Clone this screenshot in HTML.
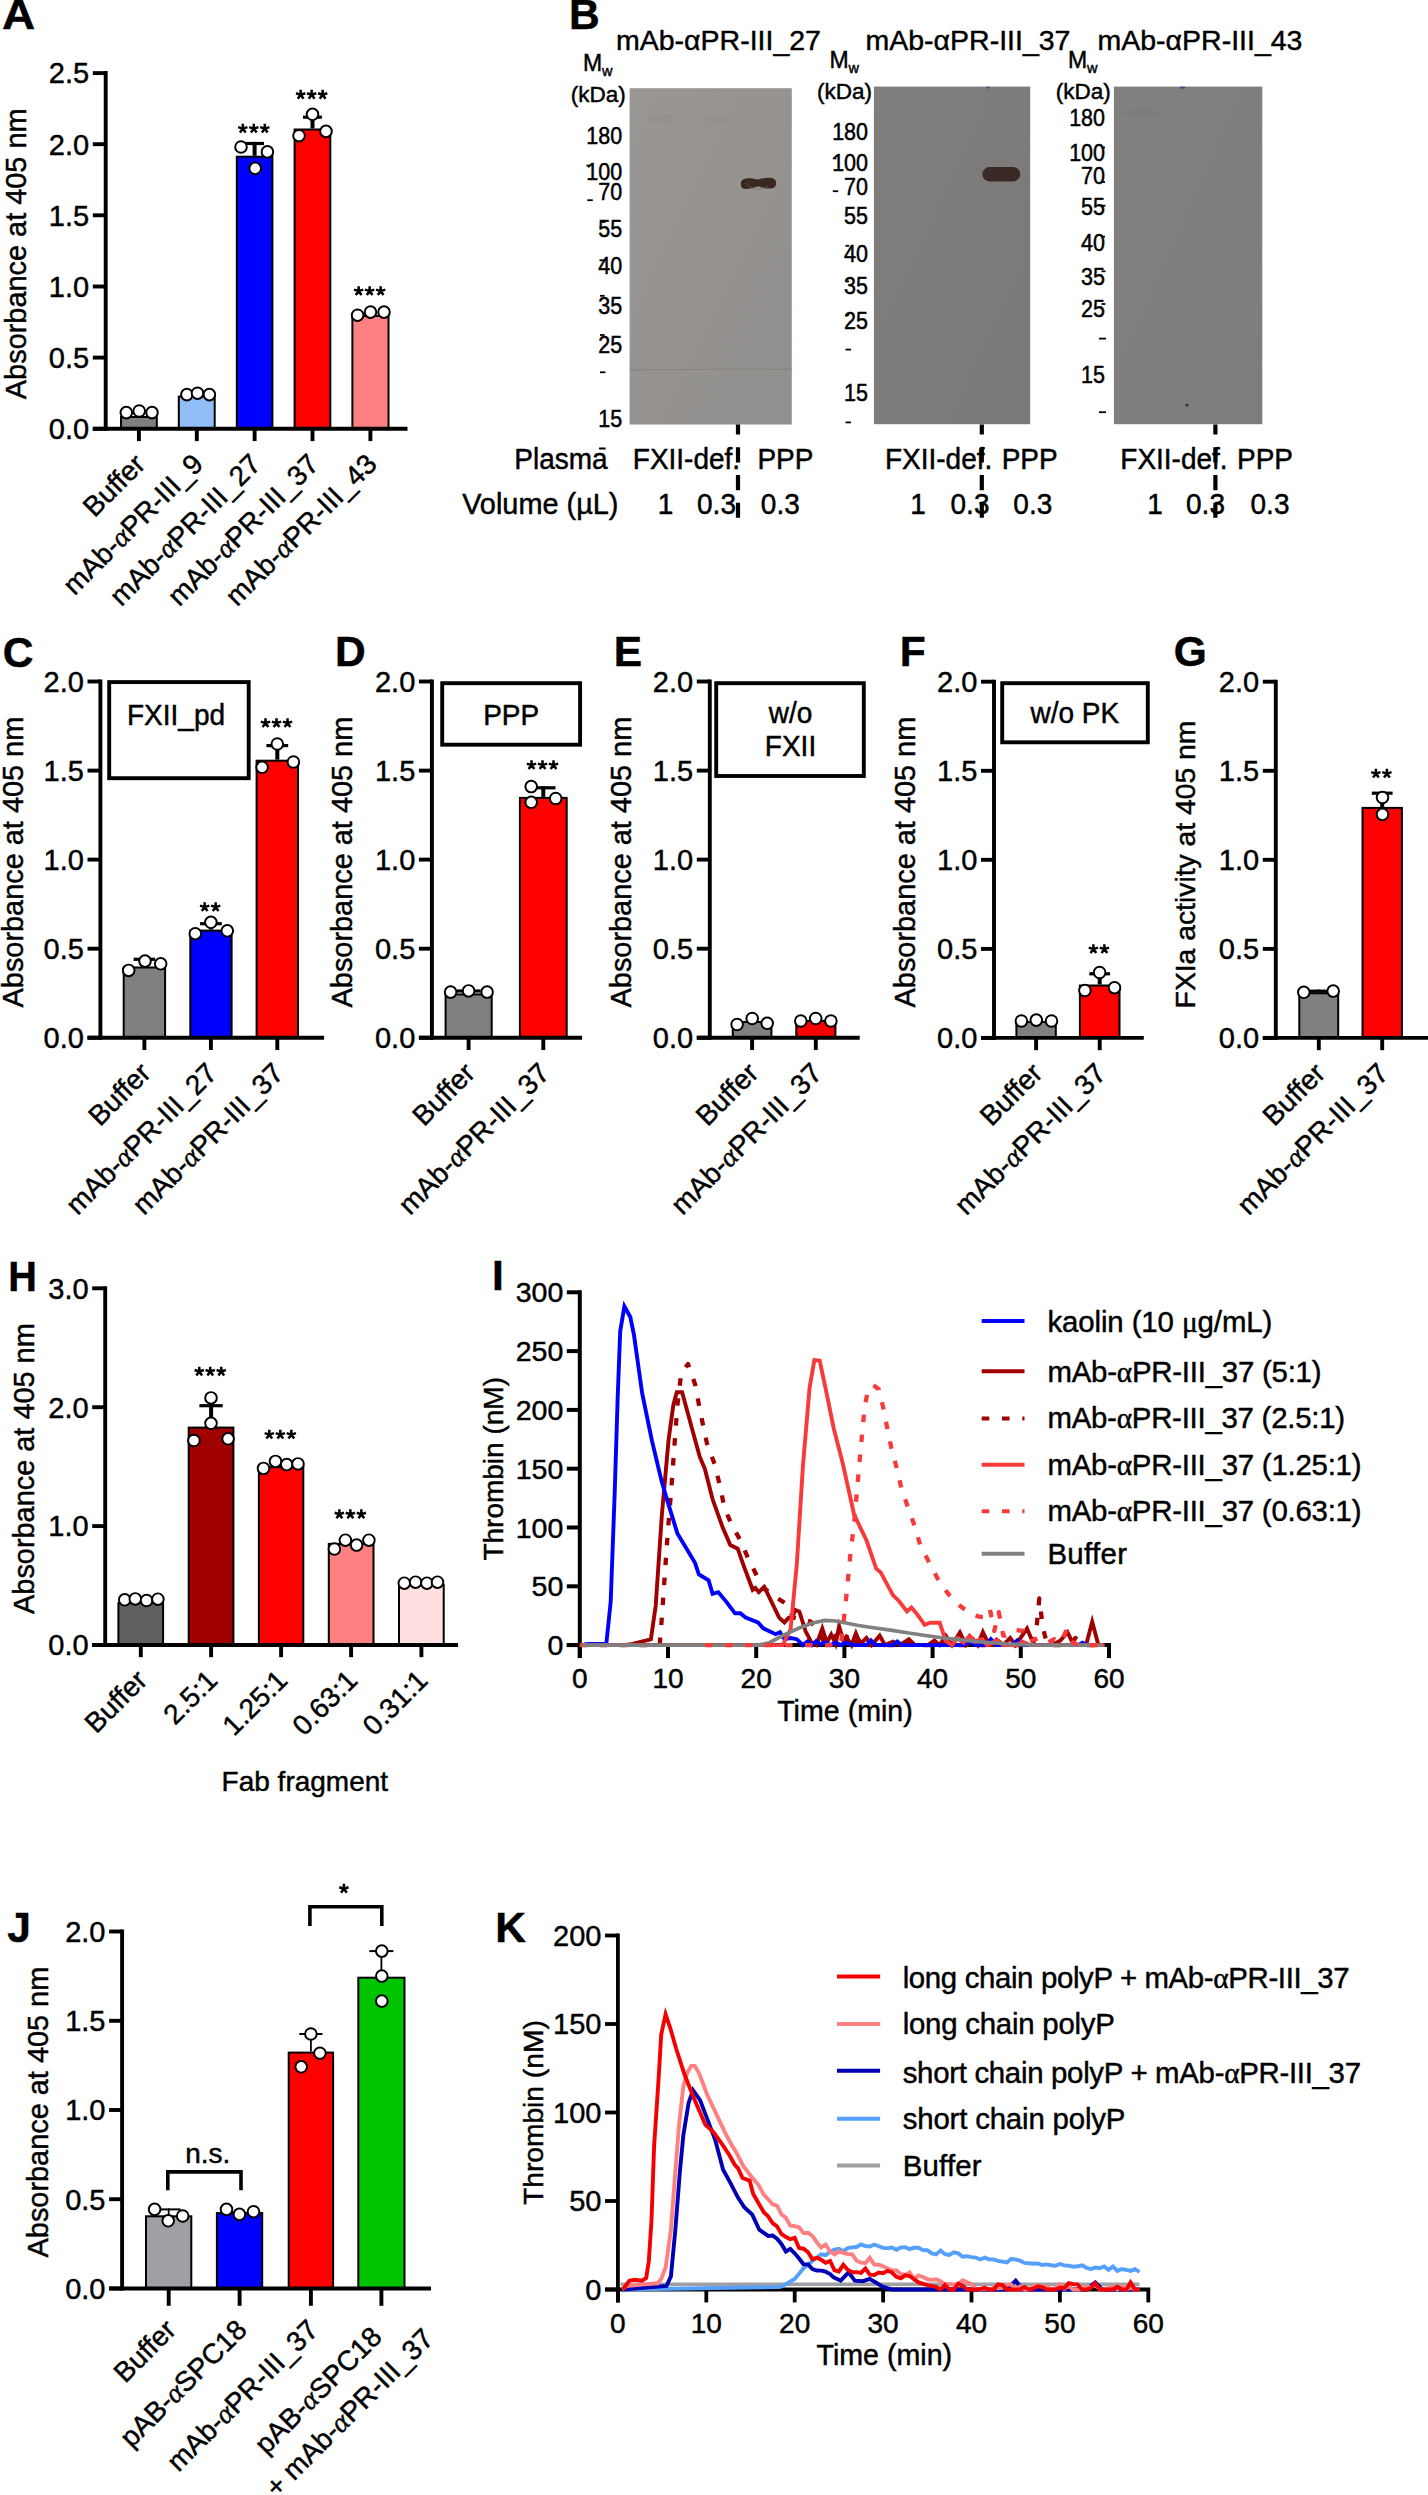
<!DOCTYPE html>
<html><head><meta charset="utf-8"><title>Figure</title>
<style>
html,body{margin:0;padding:0;background:#fff;overflow:hidden;width:1428px;height:2495px;}
svg{display:block;}
text{font-family:"Liberation Sans",sans-serif;stroke:#000;stroke-width:0.45px;}
</style></head><body>
<svg width="1428" height="2495" viewBox="0 0 1428 2495">
<rect width="1428" height="2495" fill="#fff"/>
<text x="0" y="0" transform="translate(2.1 29.0) scale(1.08 1)" font-size="42.5" font-weight="bold">A</text>
<rect x="121.0" y="417.0" width="35.8" height="11.8" fill="#808080" stroke="#000" stroke-width="2.0"/>
<rect x="178.8" y="396.6" width="35.9" height="32.2" fill="#92bef8" stroke="#000" stroke-width="2.0"/>
<rect x="236.8" y="156.7" width="35.6" height="272.1" fill="#0000ff" stroke="#000" stroke-width="2.0"/>
<rect x="294.6" y="129.5" width="35.7" height="299.3" fill="#ff0000" stroke="#000" stroke-width="2.0"/>
<rect x="352.4" y="316.0" width="36.1" height="112.8" fill="#ff8080" stroke="#000" stroke-width="2.0"/>
<line x1="254.6" y1="155.7" x2="254.6" y2="141.9" stroke="#000" stroke-width="4.0"/>
<line x1="245.2" y1="143.5" x2="264.0" y2="143.5" stroke="#000" stroke-width="3.2"/>
<line x1="312.5" y1="128.5" x2="312.5" y2="115.6" stroke="#000" stroke-width="4.0"/>
<line x1="303.0" y1="117.2" x2="321.9" y2="117.2" stroke="#000" stroke-width="3.2"/>
<line x1="105.7" y1="71.1" x2="105.7" y2="430.8" stroke="#000" stroke-width="3.9"/>
<line x1="92.8" y1="428.8" x2="105.7" y2="428.8" stroke="#000" stroke-width="3.9"/>
<text x="89.2" y="439.1" font-size="29" text-anchor="end">0.0</text>
<line x1="92.8" y1="357.6" x2="105.7" y2="357.6" stroke="#000" stroke-width="3.9"/>
<text x="89.2" y="367.9" font-size="29" text-anchor="end">0.5</text>
<line x1="92.8" y1="286.5" x2="105.7" y2="286.5" stroke="#000" stroke-width="3.9"/>
<text x="89.2" y="296.8" font-size="29" text-anchor="end">1.0</text>
<line x1="92.8" y1="215.3" x2="105.7" y2="215.3" stroke="#000" stroke-width="3.9"/>
<text x="89.2" y="225.6" font-size="29" text-anchor="end">1.5</text>
<line x1="92.8" y1="144.2" x2="105.7" y2="144.2" stroke="#000" stroke-width="3.9"/>
<text x="89.2" y="154.5" font-size="29" text-anchor="end">2.0</text>
<line x1="92.8" y1="73.1" x2="105.7" y2="73.1" stroke="#000" stroke-width="3.9"/>
<text x="89.2" y="83.3" font-size="29" text-anchor="end">2.5</text>
<line x1="92.8" y1="428.8" x2="407.5" y2="428.8" stroke="#000" stroke-width="3.9"/>
<line x1="138.9" y1="428.8" x2="138.9" y2="441.1" stroke="#000" stroke-width="3.9"/>
<line x1="196.8" y1="428.8" x2="196.8" y2="441.1" stroke="#000" stroke-width="3.9"/>
<line x1="254.6" y1="428.8" x2="254.6" y2="441.1" stroke="#000" stroke-width="3.9"/>
<line x1="312.5" y1="428.8" x2="312.5" y2="441.1" stroke="#000" stroke-width="3.9"/>
<line x1="370.4" y1="428.8" x2="370.4" y2="441.1" stroke="#000" stroke-width="3.9"/>
<circle cx="126.3" cy="412.6" r="5.8" fill="#fff" stroke="#000" stroke-width="1.95"/>
<circle cx="139.2" cy="411.0" r="5.8" fill="#fff" stroke="#000" stroke-width="1.95"/>
<circle cx="152.0" cy="412.6" r="5.8" fill="#fff" stroke="#000" stroke-width="1.95"/>
<circle cx="186.9" cy="394.6" r="5.8" fill="#fff" stroke="#000" stroke-width="1.95"/>
<circle cx="197.5" cy="393.2" r="5.8" fill="#fff" stroke="#000" stroke-width="1.95"/>
<circle cx="209.4" cy="394.6" r="5.8" fill="#fff" stroke="#000" stroke-width="1.95"/>
<circle cx="241.0" cy="147.0" r="5.8" fill="#fff" stroke="#000" stroke-width="1.95"/>
<circle cx="255.2" cy="168.4" r="5.8" fill="#fff" stroke="#000" stroke-width="1.95"/>
<circle cx="267.4" cy="151.9" r="5.8" fill="#fff" stroke="#000" stroke-width="1.95"/>
<circle cx="299.0" cy="135.7" r="5.8" fill="#fff" stroke="#000" stroke-width="1.95"/>
<circle cx="312.5" cy="114.3" r="5.8" fill="#fff" stroke="#000" stroke-width="1.95"/>
<circle cx="326.0" cy="131.4" r="5.8" fill="#fff" stroke="#000" stroke-width="1.95"/>
<circle cx="357.6" cy="315.2" r="5.8" fill="#fff" stroke="#000" stroke-width="1.95"/>
<circle cx="370.5" cy="312.1" r="5.8" fill="#fff" stroke="#000" stroke-width="1.95"/>
<circle cx="384.0" cy="312.1" r="5.8" fill="#fff" stroke="#000" stroke-width="1.95"/>
<path d="M242.80,128.65L242.80,123.75M242.80,128.65L247.46,127.14M242.80,128.65L245.68,132.61M242.80,128.65L239.92,132.61M242.80,128.65L238.14,127.14M253.80,128.65L253.80,123.75M253.80,128.65L258.46,127.14M253.80,128.65L256.68,132.61M253.80,128.65L250.92,132.61M253.80,128.65L249.14,127.14M264.80,128.65L264.80,123.75M264.80,128.65L269.46,127.14M264.80,128.65L267.68,132.61M264.80,128.65L261.92,132.61M264.80,128.65L260.14,127.14" stroke="#000" stroke-width="2.5" fill="none"/>
<path d="M300.65,94.75L300.65,89.85M300.65,94.75L305.31,93.24M300.65,94.75L303.53,98.71M300.65,94.75L297.77,98.71M300.65,94.75L295.99,93.24M311.65,94.75L311.65,89.85M311.65,94.75L316.31,93.24M311.65,94.75L314.53,98.71M311.65,94.75L308.77,98.71M311.65,94.75L306.99,93.24M322.65,94.75L322.65,89.85M322.65,94.75L327.31,93.24M322.65,94.75L325.53,98.71M322.65,94.75L319.77,98.71M322.65,94.75L317.99,93.24" stroke="#000" stroke-width="2.5" fill="none"/>
<path d="M358.65,291.15L358.65,286.25M358.65,291.15L363.31,289.64M358.65,291.15L361.53,295.11M358.65,291.15L355.77,295.11M358.65,291.15L353.99,289.64M369.65,291.15L369.65,286.25M369.65,291.15L374.31,289.64M369.65,291.15L372.53,295.11M369.65,291.15L366.77,295.11M369.65,291.15L364.99,289.64M380.65,291.15L380.65,286.25M380.65,291.15L385.31,289.64M380.65,291.15L383.53,295.11M380.65,291.15L377.77,295.11M380.65,291.15L375.99,289.64" stroke="#000" stroke-width="2.5" fill="none"/>
<text x="25.8" y="253.8" font-size="28.9" text-anchor="middle" transform="rotate(-90 25.8 253.8)">Absorbance at 405 nm</text>
<text x="146.9" y="465.8" font-size="28" text-anchor="end" transform="rotate(-45 146.9 465.8)">Buffer</text>
<text x="204.8" y="465.8" font-size="28" text-anchor="end" transform="rotate(-45 204.8 465.8)">mAb-<tspan font-family="Liberation Serif" font-style="italic">&#945;</tspan>PR-III_9</text>
<text x="262.6" y="465.8" font-size="28" text-anchor="end" transform="rotate(-45 262.6 465.8)">mAb-<tspan font-family="Liberation Serif" font-style="italic">&#945;</tspan>PR-III_27</text>
<text x="320.5" y="465.8" font-size="28" text-anchor="end" transform="rotate(-45 320.5 465.8)">mAb-<tspan font-family="Liberation Serif" font-style="italic">&#945;</tspan>PR-III_37</text>
<text x="378.4" y="465.8" font-size="28" text-anchor="end" transform="rotate(-45 378.4 465.8)">mAb-<tspan font-family="Liberation Serif" font-style="italic">&#945;</tspan>PR-III_43</text>
<text x="568.9" y="29.0" font-size="42.5" font-weight="bold">B</text>
<text x="616.0" y="49.5" font-size="28.5">mAb-&#945;PR-III_27</text>
<text x="865.5" y="49.5" font-size="28.5">mAb-&#945;PR-III_37</text>
<text x="1097.5" y="49.5" font-size="28.5">mAb-&#945;PR-III_43</text>
<text x="583.1" y="70.8" font-size="23">M</text>
<text x="602.1" y="75.9" font-size="14.5">w</text>
<text x="570.8" y="102.2" font-size="22.5">(kDa)</text>
<text x="829.5" y="67.6" font-size="23">M</text>
<text x="848.5" y="72.7" font-size="14.5">w</text>
<text x="817.0" y="99.0" font-size="22.5">(kDa)</text>
<text x="1068.0" y="67.6" font-size="23">M</text>
<text x="1087.0" y="72.7" font-size="14.5">w</text>
<text x="1055.7" y="99.0" font-size="22.5">(kDa)</text>
<defs><linearGradient id="g1" x1="0" y1="0" x2="1" y2="1"><stop offset="0" stop-color="#999694"/><stop offset="1" stop-color="#92908e"/></linearGradient></defs>
<rect x="629.6" y="88.2" width="162.2" height="336.3" fill="url(#g1)"/>
<defs><linearGradient id="g2" x1="0" y1="0" x2="1" y2="1"><stop offset="0" stop-color="#807e7c"/><stop offset="1" stop-color="#7b7977"/></linearGradient></defs>
<rect x="873.9" y="86.6" width="156.3" height="337.6" fill="url(#g2)"/>
<defs><linearGradient id="g3" x1="0" y1="0" x2="1" y2="1"><stop offset="0" stop-color="#82807e"/><stop offset="1" stop-color="#7f7d7b"/></linearGradient></defs>
<rect x="1113.9" y="86.6" width="148.4" height="337.6" fill="url(#g3)"/>
<line x1="629.6" y1="369.8" x2="791.8" y2="369.0" stroke="#85827f" stroke-width="0.9"/>
<ellipse cx="662" cy="119" rx="14" ry="4" fill="#8d8986" opacity="0.35"/><ellipse cx="718" cy="119" rx="14" ry="4" fill="#8d8986" opacity="0.25"/>
<ellipse cx="1140" cy="113" rx="18" ry="3.5" fill="#777472" opacity="0.3"/>
<ellipse cx="988" cy="87.6" rx="2" ry="1.0" fill="#3a3a90" opacity="0.7"/>
<ellipse cx="1182.6" cy="87.6" rx="3" ry="1.2" fill="#3a3a90" opacity="0.8"/>
<circle cx="1187" cy="405" r="1.6" fill="#3a3433"/>
<path d="M740.8,184.2 C740.5,176.5 751,177.6 758,179.6 C765,177.6 776.2,175.8 776.2,183.2 C776.2,191 765,188.5 758,186.2 C751,188.5 741,192 740.8,184.2 Z" fill="#3a2821"/>
<path d="M746,183.3 C752,192 762,190 768,186" fill="none" stroke="#6e6864" stroke-width="1" opacity="0.6"/>
<rect x="982.4" y="167.1" width="37.8" height="14.3" rx="7" ry="7" fill="#3a2927"/>
<text x="0" y="0" transform="translate(622.2 144.2) scale(1 1.09)" font-size="21.5" text-anchor="end">180</text>
<text x="0" y="0" transform="translate(622.2 179.6) scale(1 1.09)" font-size="21.5" text-anchor="end">100</text>
<text x="0" y="0" transform="translate(622.2 200.2) scale(1 1.09)" font-size="21.5" text-anchor="end">70</text>
<text x="0" y="0" transform="translate(622.2 236.9) scale(1 1.09)" font-size="21.5" text-anchor="end">55</text>
<text x="0" y="0" transform="translate(622.2 273.9) scale(1 1.09)" font-size="21.5" text-anchor="end">40</text>
<text x="0" y="0" transform="translate(622.2 313.5) scale(1 1.09)" font-size="21.5" text-anchor="end">35</text>
<text x="0" y="0" transform="translate(622.2 352.6) scale(1 1.09)" font-size="21.5" text-anchor="end">25</text>
<text x="0" y="0" transform="translate(622.2 427.3) scale(1 1.09)" font-size="21.5" text-anchor="end">15</text>
<text x="0" y="0" transform="translate(868.0 140.2) scale(1 1.09)" font-size="21.5" text-anchor="end">180</text>
<text x="0" y="0" transform="translate(868.0 171.3) scale(1 1.09)" font-size="21.5" text-anchor="end">100</text>
<text x="0" y="0" transform="translate(868.0 194.5) scale(1 1.09)" font-size="21.5" text-anchor="end">70</text>
<text x="0" y="0" transform="translate(868.0 224.0) scale(1 1.09)" font-size="21.5" text-anchor="end">55</text>
<text x="0" y="0" transform="translate(868.0 262.2) scale(1 1.09)" font-size="21.5" text-anchor="end">40</text>
<text x="0" y="0" transform="translate(868.0 293.9) scale(1 1.09)" font-size="21.5" text-anchor="end">35</text>
<text x="0" y="0" transform="translate(868.0 328.8) scale(1 1.09)" font-size="21.5" text-anchor="end">25</text>
<text x="0" y="0" transform="translate(868.0 400.5) scale(1 1.09)" font-size="21.5" text-anchor="end">15</text>
<text x="0" y="0" transform="translate(1105.0 126.3) scale(1 1.09)" font-size="21.5" text-anchor="end">180</text>
<text x="0" y="0" transform="translate(1105.0 161.0) scale(1 1.09)" font-size="21.5" text-anchor="end">100</text>
<text x="0" y="0" transform="translate(1105.0 183.9) scale(1 1.09)" font-size="21.5" text-anchor="end">70</text>
<text x="0" y="0" transform="translate(1105.0 214.8) scale(1 1.09)" font-size="21.5" text-anchor="end">55</text>
<text x="0" y="0" transform="translate(1105.0 251.2) scale(1 1.09)" font-size="21.5" text-anchor="end">40</text>
<text x="0" y="0" transform="translate(1105.0 285.3) scale(1 1.09)" font-size="21.5" text-anchor="end">35</text>
<text x="0" y="0" transform="translate(1105.0 317.0) scale(1 1.09)" font-size="21.5" text-anchor="end">25</text>
<text x="0" y="0" transform="translate(1105.0 383.2) scale(1 1.09)" font-size="21.5" text-anchor="end">15</text>
<line x1="587.3" y1="200.2" x2="592.8" y2="200.2" stroke="#000" stroke-width="1.8"/>
<line x1="586.4" y1="165.6" x2="590.0" y2="165.6" stroke="#000" stroke-width="1.8"/>
<line x1="601.9" y1="222.0" x2="605.5" y2="222.0" stroke="#000" stroke-width="1.8"/>
<line x1="599.5" y1="260.3" x2="604.5" y2="260.3" stroke="#000" stroke-width="1.8"/>
<line x1="600.0" y1="295.8" x2="604.6" y2="295.8" stroke="#000" stroke-width="1.8"/>
<line x1="600.0" y1="335.0" x2="604.6" y2="335.0" stroke="#000" stroke-width="1.8"/>
<line x1="600.0" y1="372.3" x2="605.5" y2="372.3" stroke="#000" stroke-width="1.8"/>
<line x1="832.8" y1="191.2" x2="838.2" y2="191.2" stroke="#000" stroke-width="1.8"/>
<line x1="832.8" y1="158.4" x2="836.4" y2="158.4" stroke="#000" stroke-width="1.8"/>
<line x1="845.5" y1="245.8" x2="849.2" y2="245.8" stroke="#000" stroke-width="1.8"/>
<line x1="845.5" y1="281.5" x2="849.0" y2="281.5" stroke="#000" stroke-width="1.8"/>
<line x1="845.5" y1="315.0" x2="849.0" y2="315.0" stroke="#000" stroke-width="1.8"/>
<line x1="845.5" y1="349.6" x2="851.0" y2="349.6" stroke="#000" stroke-width="1.8"/>
<line x1="845.5" y1="422.4" x2="851.0" y2="422.4" stroke="#000" stroke-width="1.8"/>
<line x1="1101.5" y1="147.5" x2="1105.0" y2="147.5" stroke="#000" stroke-width="1.8"/>
<line x1="1101.5" y1="182.0" x2="1105.0" y2="182.0" stroke="#000" stroke-width="1.8"/>
<line x1="1101.5" y1="205.7" x2="1105.5" y2="205.7" stroke="#000" stroke-width="1.8"/>
<line x1="1101.5" y1="236.7" x2="1105.0" y2="236.7" stroke="#000" stroke-width="1.8"/>
<line x1="1101.5" y1="271.3" x2="1105.5" y2="271.3" stroke="#000" stroke-width="1.8"/>
<line x1="1101.5" y1="304.0" x2="1105.5" y2="304.0" stroke="#000" stroke-width="1.8"/>
<line x1="1099.0" y1="338.6" x2="1106.0" y2="338.6" stroke="#000" stroke-width="1.8"/>
<line x1="1099.0" y1="412.2" x2="1106.0" y2="412.2" stroke="#000" stroke-width="1.8"/>
<text x="0" y="0" transform="translate(607.6 468.8) scale(1 1.05)" font-size="28" text-anchor="end">Plasma</text>
<line x1="599.0" y1="448.5" x2="605.6" y2="448.5" stroke="#000" stroke-width="2.0"/>
<text x="0" y="0" transform="translate(632.8 468.8) scale(1 1.05)" font-size="28">FXII-def.</text>
<text x="0" y="0" transform="translate(757.4 468.8) scale(1 1.05)" font-size="28">PPP</text>
<text x="0" y="0" transform="translate(618.5 514.3) scale(1 1.03)" font-size="28.9" text-anchor="end">Volume (&#181;L)</text>
<text x="0" y="0" transform="translate(665.5 514.3) scale(1 1.05)" font-size="28" text-anchor="middle">1</text>
<text x="0" y="0" transform="translate(716.5 514.3) scale(1 1.05)" font-size="28" text-anchor="middle">0.3</text>
<text x="0" y="0" transform="translate(780.3 514.3) scale(1 1.05)" font-size="28" text-anchor="middle">0.3</text>
<text x="0" y="0" transform="translate(885.0 468.8) scale(1 1.05)" font-size="28">FXII-def.</text>
<text x="0" y="0" transform="translate(1001.7 468.8) scale(1 1.05)" font-size="28">PPP</text>
<text x="0" y="0" transform="translate(918.0 514.0) scale(1 1.05)" font-size="28" text-anchor="middle">1</text>
<text x="0" y="0" transform="translate(970.0 514.0) scale(1 1.05)" font-size="28" text-anchor="middle">0.3</text>
<text x="0" y="0" transform="translate(1032.8 514.0) scale(1 1.05)" font-size="28" text-anchor="middle">0.3</text>
<text x="0" y="0" transform="translate(1120.3 468.8) scale(1 1.05)" font-size="28">FXII-def.</text>
<text x="0" y="0" transform="translate(1237.0 468.8) scale(1 1.05)" font-size="28">PPP</text>
<text x="0" y="0" transform="translate(1155.0 514.0) scale(1 1.05)" font-size="28" text-anchor="middle">1</text>
<text x="0" y="0" transform="translate(1205.5 514.0) scale(1 1.05)" font-size="28" text-anchor="middle">0.3</text>
<text x="0" y="0" transform="translate(1270.0 514.0) scale(1 1.05)" font-size="28" text-anchor="middle">0.3</text>
<line x1="738.0" y1="424.4" x2="738.0" y2="517.8" stroke="#000" stroke-width="4.2" stroke-dasharray="10.2 12.6 15.2 12.6 15.2 12.6 15.2 12.6"/>
<line x1="981.8" y1="424.4" x2="981.8" y2="517.8" stroke="#000" stroke-width="4.2" stroke-dasharray="10.2 12.6 15.2 12.6 15.2 12.6 15.2 12.6"/>
<line x1="1215.4" y1="424.4" x2="1215.4" y2="517.8" stroke="#000" stroke-width="4.2" stroke-dasharray="10.2 12.6 15.2 12.6 15.2 12.6 15.2 12.6"/>
<text x="2.7" y="666.6" font-size="42.5" font-weight="bold">C</text>
<rect x="123.7" y="967.5" width="41.4" height="70.2" fill="#808080" stroke="#000" stroke-width="2.0"/>
<rect x="190.3" y="930.6" width="41.3" height="107.1" fill="#0000ff" stroke="#000" stroke-width="2.0"/>
<rect x="256.6" y="760.7" width="41.4" height="277.0" fill="#ff0000" stroke="#000" stroke-width="2.0"/>
<line x1="144.4" y1="966.5" x2="144.4" y2="957.7" stroke="#000" stroke-width="4.0"/>
<line x1="133.6" y1="959.3" x2="155.2" y2="959.3" stroke="#000" stroke-width="3.2"/>
<line x1="210.9" y1="929.6" x2="210.9" y2="922.1" stroke="#000" stroke-width="4.0"/>
<line x1="200.1" y1="923.7" x2="221.8" y2="923.7" stroke="#000" stroke-width="3.2"/>
<line x1="277.3" y1="759.7" x2="277.3" y2="744.0" stroke="#000" stroke-width="4.0"/>
<line x1="266.4" y1="745.6" x2="288.2" y2="745.6" stroke="#000" stroke-width="3.2"/>
<line x1="100.4" y1="679.5" x2="100.4" y2="1039.7" stroke="#000" stroke-width="3.9"/>
<line x1="87.5" y1="1037.7" x2="100.4" y2="1037.7" stroke="#000" stroke-width="3.9"/>
<text x="83.9" y="1048.0" font-size="29" text-anchor="end">0.0</text>
<line x1="87.5" y1="948.7" x2="100.4" y2="948.7" stroke="#000" stroke-width="3.9"/>
<text x="83.9" y="958.9" font-size="29" text-anchor="end">0.5</text>
<line x1="87.5" y1="859.6" x2="100.4" y2="859.6" stroke="#000" stroke-width="3.9"/>
<text x="83.9" y="869.9" font-size="29" text-anchor="end">1.0</text>
<line x1="87.5" y1="770.6" x2="100.4" y2="770.6" stroke="#000" stroke-width="3.9"/>
<text x="83.9" y="780.8" font-size="29" text-anchor="end">1.5</text>
<line x1="87.5" y1="681.5" x2="100.4" y2="681.5" stroke="#000" stroke-width="3.9"/>
<text x="83.9" y="691.8" font-size="29" text-anchor="end">2.0</text>
<line x1="87.5" y1="1037.7" x2="324.1" y2="1037.7" stroke="#000" stroke-width="3.9"/>
<line x1="144.4" y1="1037.7" x2="144.4" y2="1050.0" stroke="#000" stroke-width="3.9"/>
<line x1="210.9" y1="1037.7" x2="210.9" y2="1050.0" stroke="#000" stroke-width="3.9"/>
<line x1="277.3" y1="1037.7" x2="277.3" y2="1050.0" stroke="#000" stroke-width="3.9"/>
<circle cx="128.7" cy="970.4" r="5.8" fill="#fff" stroke="#000" stroke-width="1.95"/>
<circle cx="145.0" cy="961.1" r="5.8" fill="#fff" stroke="#000" stroke-width="1.95"/>
<circle cx="160.7" cy="963.8" r="5.8" fill="#fff" stroke="#000" stroke-width="1.95"/>
<circle cx="195.3" cy="933.7" r="5.8" fill="#fff" stroke="#000" stroke-width="1.95"/>
<circle cx="210.9" cy="922.3" r="5.8" fill="#fff" stroke="#000" stroke-width="1.95"/>
<circle cx="227.3" cy="930.8" r="5.8" fill="#fff" stroke="#000" stroke-width="1.95"/>
<circle cx="262.1" cy="767.3" r="5.8" fill="#fff" stroke="#000" stroke-width="1.95"/>
<circle cx="277.3" cy="744.0" r="5.8" fill="#fff" stroke="#000" stroke-width="1.95"/>
<circle cx="293.4" cy="762.0" r="5.8" fill="#fff" stroke="#000" stroke-width="1.95"/>
<path d="M204.65,907.15L204.65,902.25M204.65,907.15L209.31,905.64M204.65,907.15L207.53,911.11M204.65,907.15L201.77,911.11M204.65,907.15L199.99,905.64M215.65,907.15L215.65,902.25M215.65,907.15L220.31,905.64M215.65,907.15L218.53,911.11M215.65,907.15L212.77,911.11M215.65,907.15L210.99,905.64" stroke="#000" stroke-width="2.5" fill="none"/>
<path d="M265.50,723.15L265.50,718.25M265.50,723.15L270.16,721.64M265.50,723.15L268.38,727.11M265.50,723.15L262.62,727.11M265.50,723.15L260.84,721.64M276.50,723.15L276.50,718.25M276.50,723.15L281.16,721.64M276.50,723.15L279.38,727.11M276.50,723.15L273.62,727.11M276.50,723.15L271.84,721.64M287.50,723.15L287.50,718.25M287.50,723.15L292.16,721.64M287.50,723.15L290.38,727.11M287.50,723.15L284.62,727.11M287.50,723.15L282.84,721.64" stroke="#000" stroke-width="2.5" fill="none"/>
<rect x="109.2" y="682.1" width="139.5" height="96.1" fill="none" stroke="#000" stroke-width="3.9"/>
<text x="0" y="0" transform="translate(176.0 724.5) scale(1 1.06)" font-size="28" text-anchor="middle">FXII_pd</text>
<text x="22.8" y="862.1" font-size="28.9" text-anchor="middle" transform="rotate(-90 22.8 862.1)">Absorbance at 405 nm</text>
<text x="152.4" y="1074.7" font-size="28" text-anchor="end" transform="rotate(-45 152.4 1074.7)">Buffer</text>
<text x="218.9" y="1074.7" font-size="28" text-anchor="end" transform="rotate(-45 218.9 1074.7)">mAb-<tspan font-family="Liberation Serif" font-style="italic">&#945;</tspan>PR-III_27</text>
<text x="285.3" y="1074.7" font-size="28" text-anchor="end" transform="rotate(-45 285.3 1074.7)">mAb-<tspan font-family="Liberation Serif" font-style="italic">&#945;</tspan>PR-III_37</text>
<text x="334.9" y="666.0" font-size="42.5" font-weight="bold">D</text>
<rect x="445.6" y="994.4" width="46.1" height="43.3" fill="#808080" stroke="#000" stroke-width="2.0"/>
<rect x="519.9" y="797.9" width="46.8" height="239.8" fill="#ff0000" stroke="#000" stroke-width="2.0"/>
<line x1="468.6" y1="993.4" x2="468.6" y2="989.4" stroke="#000" stroke-width="4.0"/>
<line x1="456.6" y1="991.0" x2="480.7" y2="991.0" stroke="#000" stroke-width="3.2"/>
<line x1="543.3" y1="796.9" x2="543.3" y2="786.2" stroke="#000" stroke-width="4.0"/>
<line x1="531.1" y1="787.8" x2="555.5" y2="787.8" stroke="#000" stroke-width="3.2"/>
<line x1="431.9" y1="679.5" x2="431.9" y2="1039.7" stroke="#000" stroke-width="3.9"/>
<line x1="418.9" y1="1037.7" x2="431.9" y2="1037.7" stroke="#000" stroke-width="3.9"/>
<text x="415.3" y="1048.0" font-size="29" text-anchor="end">0.0</text>
<line x1="418.9" y1="948.7" x2="431.9" y2="948.7" stroke="#000" stroke-width="3.9"/>
<text x="415.3" y="958.9" font-size="29" text-anchor="end">0.5</text>
<line x1="418.9" y1="859.6" x2="431.9" y2="859.6" stroke="#000" stroke-width="3.9"/>
<text x="415.3" y="869.9" font-size="29" text-anchor="end">1.0</text>
<line x1="418.9" y1="770.6" x2="431.9" y2="770.6" stroke="#000" stroke-width="3.9"/>
<text x="415.3" y="780.8" font-size="29" text-anchor="end">1.5</text>
<line x1="418.9" y1="681.5" x2="431.9" y2="681.5" stroke="#000" stroke-width="3.9"/>
<text x="415.3" y="691.8" font-size="29" text-anchor="end">2.0</text>
<line x1="418.9" y1="1037.7" x2="582.1" y2="1037.7" stroke="#000" stroke-width="3.9"/>
<line x1="468.6" y1="1037.7" x2="468.6" y2="1050.0" stroke="#000" stroke-width="3.9"/>
<line x1="543.3" y1="1037.7" x2="543.3" y2="1050.0" stroke="#000" stroke-width="3.9"/>
<circle cx="450.6" cy="992.1" r="5.8" fill="#fff" stroke="#000" stroke-width="1.95"/>
<circle cx="468.6" cy="990.9" r="5.8" fill="#fff" stroke="#000" stroke-width="1.95"/>
<circle cx="487.1" cy="992.1" r="5.8" fill="#fff" stroke="#000" stroke-width="1.95"/>
<circle cx="531.2" cy="786.6" r="5.8" fill="#fff" stroke="#000" stroke-width="1.95"/>
<circle cx="531.2" cy="802.3" r="5.8" fill="#fff" stroke="#000" stroke-width="1.95"/>
<circle cx="555.7" cy="798.5" r="5.8" fill="#fff" stroke="#000" stroke-width="1.95"/>
<path d="M531.50,765.15L531.50,760.25M531.50,765.15L536.16,763.64M531.50,765.15L534.38,769.11M531.50,765.15L528.62,769.11M531.50,765.15L526.84,763.64M542.50,765.15L542.50,760.25M542.50,765.15L547.16,763.64M542.50,765.15L545.38,769.11M542.50,765.15L539.62,769.11M542.50,765.15L537.84,763.64M553.50,765.15L553.50,760.25M553.50,765.15L558.16,763.64M553.50,765.15L556.38,769.11M553.50,765.15L550.62,769.11M553.50,765.15L548.84,763.64" stroke="#000" stroke-width="2.5" fill="none"/>
<rect x="442.2" y="683.2" width="137.9" height="61.5" fill="none" stroke="#000" stroke-width="3.9"/>
<text x="0" y="0" transform="translate(511.2 724.8) scale(1 1.06)" font-size="28" text-anchor="middle">PPP</text>
<text x="352.5" y="862.1" font-size="28.9" text-anchor="middle" transform="rotate(-90 352.5 862.1)">Absorbance at 405 nm</text>
<text x="476.6" y="1074.7" font-size="28" text-anchor="end" transform="rotate(-45 476.6 1074.7)">Buffer</text>
<text x="551.3" y="1074.7" font-size="28" text-anchor="end" transform="rotate(-45 551.3 1074.7)">mAb-<tspan font-family="Liberation Serif" font-style="italic">&#945;</tspan>PR-III_37</text>
<text x="613.7" y="666.0" font-size="42.5" font-weight="bold">E</text>
<rect x="732.8" y="1022.0" width="38.6" height="15.7" fill="#808080" stroke="#000" stroke-width="2.0"/>
<rect x="796.3" y="1020.9" width="39.1" height="16.8" fill="#ff0000" stroke="#000" stroke-width="2.0"/>
<line x1="709.8" y1="679.5" x2="709.8" y2="1039.7" stroke="#000" stroke-width="3.9"/>
<line x1="696.8" y1="1037.7" x2="709.8" y2="1037.7" stroke="#000" stroke-width="3.9"/>
<text x="693.2" y="1048.0" font-size="29" text-anchor="end">0.0</text>
<line x1="696.8" y1="948.7" x2="709.8" y2="948.7" stroke="#000" stroke-width="3.9"/>
<text x="693.2" y="958.9" font-size="29" text-anchor="end">0.5</text>
<line x1="696.8" y1="859.6" x2="709.8" y2="859.6" stroke="#000" stroke-width="3.9"/>
<text x="693.2" y="869.9" font-size="29" text-anchor="end">1.0</text>
<line x1="696.8" y1="770.6" x2="709.8" y2="770.6" stroke="#000" stroke-width="3.9"/>
<text x="693.2" y="780.8" font-size="29" text-anchor="end">1.5</text>
<line x1="696.8" y1="681.5" x2="709.8" y2="681.5" stroke="#000" stroke-width="3.9"/>
<text x="693.2" y="691.8" font-size="29" text-anchor="end">2.0</text>
<line x1="696.8" y1="1037.7" x2="859.7" y2="1037.7" stroke="#000" stroke-width="3.9"/>
<line x1="752.1" y1="1037.7" x2="752.1" y2="1050.0" stroke="#000" stroke-width="3.9"/>
<line x1="815.8" y1="1037.7" x2="815.8" y2="1050.0" stroke="#000" stroke-width="3.9"/>
<circle cx="737.1" cy="1024.5" r="5.8" fill="#fff" stroke="#000" stroke-width="1.95"/>
<circle cx="752.2" cy="1018.5" r="5.8" fill="#fff" stroke="#000" stroke-width="1.95"/>
<circle cx="767.2" cy="1023.3" r="5.8" fill="#fff" stroke="#000" stroke-width="1.95"/>
<circle cx="800.8" cy="1021.0" r="5.8" fill="#fff" stroke="#000" stroke-width="1.95"/>
<circle cx="815.7" cy="1018.5" r="5.8" fill="#fff" stroke="#000" stroke-width="1.95"/>
<circle cx="830.9" cy="1021.0" r="5.8" fill="#fff" stroke="#000" stroke-width="1.95"/>
<rect x="716.2" y="683.2" width="147.6" height="92.8" fill="none" stroke="#000" stroke-width="3.9"/>
<text x="0" y="0" transform="translate(790.5 722.6) scale(1 1.06)" font-size="28" text-anchor="middle">w/o</text>
<text x="0" y="0" transform="translate(790.5 755.5) scale(1 1.06)" font-size="28" text-anchor="middle">FXII</text>
<text x="631.3" y="862.1" font-size="28.9" text-anchor="middle" transform="rotate(-90 631.3 862.1)">Absorbance at 405 nm</text>
<text x="760.1" y="1074.7" font-size="28" text-anchor="end" transform="rotate(-45 760.1 1074.7)">Buffer</text>
<text x="823.8" y="1074.7" font-size="28" text-anchor="end" transform="rotate(-45 823.8 1074.7)">mAb-<tspan font-family="Liberation Serif" font-style="italic">&#945;</tspan>PR-III_37</text>
<text x="899.7" y="666.0" font-size="42.5" font-weight="bold">F</text>
<rect x="1016.4" y="1022.0" width="39.4" height="15.9" fill="#808080" stroke="#000" stroke-width="2.0"/>
<rect x="1079.9" y="985.5" width="39.6" height="52.4" fill="#ff0000" stroke="#000" stroke-width="2.0"/>
<line x1="1099.7" y1="984.5" x2="1099.7" y2="972.2" stroke="#000" stroke-width="4.0"/>
<line x1="1089.3" y1="973.8" x2="1110.1" y2="973.8" stroke="#000" stroke-width="3.2"/>
<line x1="994.0" y1="679.8" x2="994.0" y2="1039.9" stroke="#000" stroke-width="3.9"/>
<line x1="981.0" y1="1037.9" x2="994.0" y2="1037.9" stroke="#000" stroke-width="3.9"/>
<text x="977.4" y="1048.2" font-size="29" text-anchor="end">0.0</text>
<line x1="981.0" y1="948.9" x2="994.0" y2="948.9" stroke="#000" stroke-width="3.9"/>
<text x="977.4" y="959.1" font-size="29" text-anchor="end">0.5</text>
<line x1="981.0" y1="859.8" x2="994.0" y2="859.8" stroke="#000" stroke-width="3.9"/>
<text x="977.4" y="870.1" font-size="29" text-anchor="end">1.0</text>
<line x1="981.0" y1="770.8" x2="994.0" y2="770.8" stroke="#000" stroke-width="3.9"/>
<text x="977.4" y="781.0" font-size="29" text-anchor="end">1.5</text>
<line x1="981.0" y1="681.7" x2="994.0" y2="681.7" stroke="#000" stroke-width="3.9"/>
<text x="977.4" y="692.0" font-size="29" text-anchor="end">2.0</text>
<line x1="981.0" y1="1037.9" x2="1143.8" y2="1037.9" stroke="#000" stroke-width="3.9"/>
<line x1="1036.1" y1="1037.9" x2="1036.1" y2="1050.2" stroke="#000" stroke-width="3.9"/>
<line x1="1099.7" y1="1037.9" x2="1099.7" y2="1050.2" stroke="#000" stroke-width="3.9"/>
<circle cx="1021.4" cy="1021.0" r="5.8" fill="#fff" stroke="#000" stroke-width="1.95"/>
<circle cx="1036.3" cy="1020.1" r="5.8" fill="#fff" stroke="#000" stroke-width="1.95"/>
<circle cx="1051.5" cy="1021.0" r="5.8" fill="#fff" stroke="#000" stroke-width="1.95"/>
<circle cx="1084.9" cy="990.5" r="5.8" fill="#fff" stroke="#000" stroke-width="1.95"/>
<circle cx="1099.6" cy="972.5" r="5.8" fill="#fff" stroke="#000" stroke-width="1.95"/>
<circle cx="1114.5" cy="987.7" r="5.8" fill="#fff" stroke="#000" stroke-width="1.95"/>
<path d="M1093.40,949.15L1093.40,944.25M1093.40,949.15L1098.06,947.64M1093.40,949.15L1096.28,953.11M1093.40,949.15L1090.52,953.11M1093.40,949.15L1088.74,947.64M1104.40,949.15L1104.40,944.25M1104.40,949.15L1109.06,947.64M1104.40,949.15L1107.28,953.11M1104.40,949.15L1101.52,953.11M1104.40,949.15L1099.74,947.64" stroke="#000" stroke-width="2.5" fill="none"/>
<rect x="1002.2" y="683.2" width="145.6" height="59.1" fill="none" stroke="#000" stroke-width="3.9"/>
<text x="0" y="0" transform="translate(1074.8 722.6) scale(1 1.06)" font-size="28" text-anchor="middle">w/o PK</text>
<text x="914.9" y="862.1" font-size="28.9" text-anchor="middle" transform="rotate(-90 914.9 862.1)">Absorbance at 405 nm</text>
<text x="1044.1" y="1074.9" font-size="28" text-anchor="end" transform="rotate(-45 1044.1 1074.9)">Buffer</text>
<text x="1107.7" y="1074.9" font-size="28" text-anchor="end" transform="rotate(-45 1107.7 1074.9)">mAb-<tspan font-family="Liberation Serif" font-style="italic">&#945;</tspan>PR-III_37</text>
<text x="1173.7" y="666.3" font-size="42.5" font-weight="bold">G</text>
<rect x="1299.3" y="993.3" width="38.9" height="44.6" fill="#808080" stroke="#000" stroke-width="2.0"/>
<rect x="1362.5" y="807.9" width="39.4" height="230.0" fill="#ff0000" stroke="#000" stroke-width="2.0"/>
<line x1="1318.8" y1="992.3" x2="1318.8" y2="989.6" stroke="#000" stroke-width="4.0"/>
<line x1="1308.5" y1="991.2" x2="1329.0" y2="991.2" stroke="#000" stroke-width="3.2"/>
<line x1="1382.2" y1="806.9" x2="1382.2" y2="791.6" stroke="#000" stroke-width="4.0"/>
<line x1="1371.8" y1="793.2" x2="1392.6" y2="793.2" stroke="#000" stroke-width="3.2"/>
<line x1="1275.8" y1="679.8" x2="1275.8" y2="1039.9" stroke="#000" stroke-width="3.9"/>
<line x1="1262.8" y1="1037.9" x2="1275.8" y2="1037.9" stroke="#000" stroke-width="3.9"/>
<text x="1259.2" y="1048.2" font-size="29" text-anchor="end">0.0</text>
<line x1="1262.8" y1="948.9" x2="1275.8" y2="948.9" stroke="#000" stroke-width="3.9"/>
<text x="1259.2" y="959.1" font-size="29" text-anchor="end">0.5</text>
<line x1="1262.8" y1="859.8" x2="1275.8" y2="859.8" stroke="#000" stroke-width="3.9"/>
<text x="1259.2" y="870.1" font-size="29" text-anchor="end">1.0</text>
<line x1="1262.8" y1="770.8" x2="1275.8" y2="770.8" stroke="#000" stroke-width="3.9"/>
<text x="1259.2" y="781.0" font-size="29" text-anchor="end">1.5</text>
<line x1="1262.8" y1="681.7" x2="1275.8" y2="681.7" stroke="#000" stroke-width="3.9"/>
<text x="1259.2" y="692.0" font-size="29" text-anchor="end">2.0</text>
<line x1="1262.8" y1="1037.9" x2="1428.0" y2="1037.9" stroke="#000" stroke-width="3.9"/>
<line x1="1318.8" y1="1037.9" x2="1318.8" y2="1050.2" stroke="#000" stroke-width="3.9"/>
<line x1="1382.2" y1="1037.9" x2="1382.2" y2="1050.2" stroke="#000" stroke-width="3.9"/>
<circle cx="1303.8" cy="992.3" r="5.8" fill="#fff" stroke="#000" stroke-width="1.95"/>
<circle cx="1333.2" cy="991.1" r="5.8" fill="#fff" stroke="#000" stroke-width="1.95"/>
<circle cx="1382.5" cy="797.5" r="5.8" fill="#fff" stroke="#000" stroke-width="1.95"/>
<circle cx="1382.5" cy="814.4" r="5.8" fill="#fff" stroke="#000" stroke-width="1.95"/>
<path d="M1375.90,773.65L1375.90,768.75M1375.90,773.65L1380.56,772.14M1375.90,773.65L1378.78,777.61M1375.90,773.65L1373.02,777.61M1375.90,773.65L1371.24,772.14M1386.90,773.65L1386.90,768.75M1386.90,773.65L1391.56,772.14M1386.90,773.65L1389.78,777.61M1386.90,773.65L1384.02,777.61M1386.90,773.65L1382.24,772.14" stroke="#000" stroke-width="2.5" fill="none"/>
<text x="1194.8" y="864.5" font-size="28.3" text-anchor="middle" transform="rotate(-90 1194.8 864.5)">FXIa activity at 405 nm</text>
<text x="1326.8" y="1074.9" font-size="28" text-anchor="end" transform="rotate(-45 1326.8 1074.9)">Buffer</text>
<text x="1390.2" y="1074.9" font-size="28" text-anchor="end" transform="rotate(-45 1390.2 1074.9)">mAb-<tspan font-family="Liberation Serif" font-style="italic">&#945;</tspan>PR-III_37</text>
<text x="0" y="0" transform="translate(8.3 1290.6) scale(0.932 1)" font-size="42.5" font-weight="bold">H</text>
<rect x="118.4" y="1603.2" width="44.7" height="41.8" fill="#606060" stroke="#000" stroke-width="2.0"/>
<rect x="188.7" y="1427.6" width="44.7" height="217.4" fill="#a00000" stroke="#000" stroke-width="2.0"/>
<rect x="258.9" y="1467.2" width="44.4" height="177.8" fill="#ff0000" stroke="#000" stroke-width="2.0"/>
<rect x="328.8" y="1543.9" width="44.7" height="101.1" fill="#ff8080" stroke="#000" stroke-width="2.0"/>
<rect x="399.0" y="1584.8" width="44.7" height="60.2" fill="#ffe0e0" stroke="#000" stroke-width="2.0"/>
<line x1="211.1" y1="1426.6" x2="211.1" y2="1404.1" stroke="#000" stroke-width="4.0"/>
<line x1="199.4" y1="1405.7" x2="222.7" y2="1405.7" stroke="#000" stroke-width="3.2"/>
<line x1="105.2" y1="1286.3" x2="105.2" y2="1647.0" stroke="#000" stroke-width="3.9"/>
<line x1="92.2" y1="1645.0" x2="105.2" y2="1645.0" stroke="#000" stroke-width="3.9"/>
<text x="88.7" y="1655.3" font-size="29" text-anchor="end">0.0</text>
<line x1="92.2" y1="1526.1" x2="105.2" y2="1526.1" stroke="#000" stroke-width="3.9"/>
<text x="88.7" y="1536.4" font-size="29" text-anchor="end">1.0</text>
<line x1="92.2" y1="1407.2" x2="105.2" y2="1407.2" stroke="#000" stroke-width="3.9"/>
<text x="88.7" y="1417.5" font-size="29" text-anchor="end">2.0</text>
<line x1="92.2" y1="1288.3" x2="105.2" y2="1288.3" stroke="#000" stroke-width="3.9"/>
<text x="88.7" y="1298.6" font-size="29" text-anchor="end">3.0</text>
<line x1="92.2" y1="1645.0" x2="458.1" y2="1645.0" stroke="#000" stroke-width="3.9"/>
<line x1="140.8" y1="1645.0" x2="140.8" y2="1657.2" stroke="#000" stroke-width="3.9"/>
<line x1="211.1" y1="1645.0" x2="211.1" y2="1657.2" stroke="#000" stroke-width="3.9"/>
<line x1="281.1" y1="1645.0" x2="281.1" y2="1657.2" stroke="#000" stroke-width="3.9"/>
<line x1="351.1" y1="1645.0" x2="351.1" y2="1657.2" stroke="#000" stroke-width="3.9"/>
<line x1="421.4" y1="1645.0" x2="421.4" y2="1657.2" stroke="#000" stroke-width="3.9"/>
<circle cx="124.7" cy="1599.8" r="5.8" fill="#fff" stroke="#000" stroke-width="1.95"/>
<circle cx="135.3" cy="1598.9" r="5.8" fill="#fff" stroke="#000" stroke-width="1.95"/>
<circle cx="146.6" cy="1600.5" r="5.8" fill="#fff" stroke="#000" stroke-width="1.95"/>
<circle cx="157.9" cy="1599.2" r="5.8" fill="#fff" stroke="#000" stroke-width="1.95"/>
<circle cx="193.9" cy="1440.5" r="5.8" fill="#fff" stroke="#000" stroke-width="1.95"/>
<circle cx="211.0" cy="1397.9" r="5.8" fill="#fff" stroke="#000" stroke-width="1.95"/>
<circle cx="211.0" cy="1423.3" r="5.8" fill="#fff" stroke="#000" stroke-width="1.95"/>
<circle cx="228.1" cy="1438.8" r="5.8" fill="#fff" stroke="#000" stroke-width="1.95"/>
<circle cx="263.5" cy="1468.4" r="5.8" fill="#fff" stroke="#000" stroke-width="1.95"/>
<circle cx="275.5" cy="1461.4" r="5.8" fill="#fff" stroke="#000" stroke-width="1.95"/>
<circle cx="286.7" cy="1464.6" r="5.8" fill="#fff" stroke="#000" stroke-width="1.95"/>
<circle cx="298.0" cy="1463.9" r="5.8" fill="#fff" stroke="#000" stroke-width="1.95"/>
<circle cx="334.4" cy="1549.0" r="5.8" fill="#fff" stroke="#000" stroke-width="1.95"/>
<circle cx="345.4" cy="1540.2" r="5.8" fill="#fff" stroke="#000" stroke-width="1.95"/>
<circle cx="356.6" cy="1545.1" r="5.8" fill="#fff" stroke="#000" stroke-width="1.95"/>
<circle cx="368.9" cy="1540.2" r="5.8" fill="#fff" stroke="#000" stroke-width="1.95"/>
<circle cx="404.3" cy="1583.2" r="5.8" fill="#fff" stroke="#000" stroke-width="1.95"/>
<circle cx="415.6" cy="1582.2" r="5.8" fill="#fff" stroke="#000" stroke-width="1.95"/>
<circle cx="426.9" cy="1583.2" r="5.8" fill="#fff" stroke="#000" stroke-width="1.95"/>
<circle cx="437.5" cy="1582.2" r="5.8" fill="#fff" stroke="#000" stroke-width="1.95"/>
<path d="M199.25,1371.55L199.25,1366.65M199.25,1371.55L203.91,1370.04M199.25,1371.55L202.13,1375.51M199.25,1371.55L196.37,1375.51M199.25,1371.55L194.59,1370.04M210.25,1371.55L210.25,1366.65M210.25,1371.55L214.91,1370.04M210.25,1371.55L213.13,1375.51M210.25,1371.55L207.37,1375.51M210.25,1371.55L205.59,1370.04M221.25,1371.55L221.25,1366.65M221.25,1371.55L225.91,1370.04M221.25,1371.55L224.13,1375.51M221.25,1371.55L218.37,1375.51M221.25,1371.55L216.59,1370.04" stroke="#000" stroke-width="2.5" fill="none"/>
<path d="M269.30,1434.65L269.30,1429.75M269.30,1434.65L273.96,1433.14M269.30,1434.65L272.18,1438.61M269.30,1434.65L266.42,1438.61M269.30,1434.65L264.64,1433.14M280.30,1434.65L280.30,1429.75M280.30,1434.65L284.96,1433.14M280.30,1434.65L283.18,1438.61M280.30,1434.65L277.42,1438.61M280.30,1434.65L275.64,1433.14M291.30,1434.65L291.30,1429.75M291.30,1434.65L295.96,1433.14M291.30,1434.65L294.18,1438.61M291.30,1434.65L288.42,1438.61M291.30,1434.65L286.64,1433.14" stroke="#000" stroke-width="2.5" fill="none"/>
<path d="M339.35,1514.25L339.35,1509.35M339.35,1514.25L344.01,1512.74M339.35,1514.25L342.23,1518.21M339.35,1514.25L336.47,1518.21M339.35,1514.25L334.69,1512.74M350.35,1514.25L350.35,1509.35M350.35,1514.25L355.01,1512.74M350.35,1514.25L353.23,1518.21M350.35,1514.25L347.47,1518.21M350.35,1514.25L345.69,1512.74M361.35,1514.25L361.35,1509.35M361.35,1514.25L366.01,1512.74M361.35,1514.25L364.23,1518.21M361.35,1514.25L358.47,1518.21M361.35,1514.25L356.69,1512.74" stroke="#000" stroke-width="2.5" fill="none"/>
<text x="33.8" y="1468.6" font-size="28.9" text-anchor="middle" transform="rotate(-90 33.8 1468.6)">Absorbance at 405 nm</text>
<text x="148.8" y="1682.0" font-size="28" text-anchor="end" transform="rotate(-45 148.8 1682.0)">Buffer</text>
<text x="219.1" y="1682.0" font-size="28" text-anchor="end" transform="rotate(-45 219.1 1682.0)">2.5:1</text>
<text x="289.1" y="1682.0" font-size="28" text-anchor="end" transform="rotate(-45 289.1 1682.0)">1.25:1</text>
<text x="359.1" y="1682.0" font-size="28" text-anchor="end" transform="rotate(-45 359.1 1682.0)">0.63:1</text>
<text x="429.4" y="1682.0" font-size="28" text-anchor="end" transform="rotate(-45 429.4 1682.0)">0.31:1</text>
<text x="221.6" y="1790.9" font-size="28">Fab fragment</text>
<text x="491.9" y="1290.4" font-size="42.5" font-weight="bold">I</text>
<line x1="579.8" y1="1290.3" x2="579.8" y2="1658.1" stroke="#000" stroke-width="4.0"/>
<line x1="566.8" y1="1645.1" x2="579.8" y2="1645.1" stroke="#000" stroke-width="4.0"/>
<text x="563.3" y="1655.2" font-size="28.5" text-anchor="end">0</text>
<line x1="566.8" y1="1586.3" x2="579.8" y2="1586.3" stroke="#000" stroke-width="4.0"/>
<text x="563.3" y="1596.4" font-size="28.5" text-anchor="end">50</text>
<line x1="566.8" y1="1527.5" x2="579.8" y2="1527.5" stroke="#000" stroke-width="4.0"/>
<text x="563.3" y="1537.6" font-size="28.5" text-anchor="end">100</text>
<line x1="566.8" y1="1468.7" x2="579.8" y2="1468.7" stroke="#000" stroke-width="4.0"/>
<text x="563.3" y="1478.8" font-size="28.5" text-anchor="end">150</text>
<line x1="566.8" y1="1409.9" x2="579.8" y2="1409.9" stroke="#000" stroke-width="4.0"/>
<text x="563.3" y="1420.0" font-size="28.5" text-anchor="end">200</text>
<line x1="566.8" y1="1351.1" x2="579.8" y2="1351.1" stroke="#000" stroke-width="4.0"/>
<text x="563.3" y="1361.2" font-size="28.5" text-anchor="end">250</text>
<line x1="566.8" y1="1292.3" x2="579.8" y2="1292.3" stroke="#000" stroke-width="4.0"/>
<text x="563.3" y="1302.4" font-size="28.5" text-anchor="end">300</text>
<line x1="566.8" y1="1645.1" x2="1111.0" y2="1645.1" stroke="#000" stroke-width="4.0"/>
<line x1="579.8" y1="1645.1" x2="579.8" y2="1658.1" stroke="#000" stroke-width="4.0"/>
<text x="579.8" y="1688.0" font-size="28" text-anchor="middle">0</text>
<line x1="668.0" y1="1645.1" x2="668.0" y2="1658.1" stroke="#000" stroke-width="4.0"/>
<text x="668.0" y="1688.0" font-size="28" text-anchor="middle">10</text>
<line x1="756.2" y1="1645.1" x2="756.2" y2="1658.1" stroke="#000" stroke-width="4.0"/>
<text x="756.2" y="1688.0" font-size="28" text-anchor="middle">20</text>
<line x1="844.4" y1="1645.1" x2="844.4" y2="1658.1" stroke="#000" stroke-width="4.0"/>
<text x="844.4" y="1688.0" font-size="28" text-anchor="middle">30</text>
<line x1="932.6" y1="1645.1" x2="932.6" y2="1658.1" stroke="#000" stroke-width="4.0"/>
<text x="932.6" y="1688.0" font-size="28" text-anchor="middle">40</text>
<line x1="1020.8" y1="1645.1" x2="1020.8" y2="1658.1" stroke="#000" stroke-width="4.0"/>
<text x="1020.8" y="1688.0" font-size="28" text-anchor="middle">50</text>
<line x1="1109.0" y1="1645.1" x2="1109.0" y2="1658.1" stroke="#000" stroke-width="4.0"/>
<text x="1109.0" y="1688.0" font-size="28" text-anchor="middle">60</text>
<polyline points="579.8,1645.1 623.9,1645.1 632.7,1643.9 641.5,1641.6 646.8,1640.4 650.9,1639.2 655.7,1605.7 661.8,1515.7 668.5,1440.5 673.3,1405.2 676.8,1392.3 682.1,1392.3 693.0,1432.2 699.8,1456.9 704.8,1468.7 712.6,1499.3 722.7,1527.5 730.3,1545.1 737.7,1548.7 743.9,1566.3 752.7,1589.8 755.3,1587.9 758.8,1592.2 764.1,1587.0 767.7,1593.8 779.1,1617.6 784.4,1622.4 788.8,1617.6 792.4,1617.6 795.0,1609.8 799.4,1611.6 805.6,1631.3 811.8,1643.1 816.2,1645.1 822.3,1628.6 826.8,1642.7 831.2,1634.5 835.6,1643.9 839.1,1626.3 843.5,1641.6 847.0,1638.0 851.5,1645.1 855.9,1633.3 860.3,1643.9 866.5,1638.0 871.7,1645.1 879.7,1635.7 885.0,1645.1 892.9,1641.6 900.0,1645.1 908.8,1639.2 915.0,1645.1 928.2,1645.1 934.4,1640.4 939.7,1645.1 945.8,1635.7 952.0,1645.1 959.9,1632.5 966.1,1645.1 973.2,1639.2 977.6,1645.1 982.9,1632.2 989.0,1645.1 1003.2,1645.1 1010.2,1638.0 1015.5,1645.1 1027.0,1628.6 1034.0,1645.1 1051.7,1645.1 1060.5,1640.4 1067.5,1632.2 1073.7,1645.1 1086.1,1645.1 1092.2,1621.8 1098.4,1645.1 1104.6,1645.1" fill="none" stroke="#a00000" stroke-width="3.9" stroke-linejoin="miter" stroke-miterlimit="12"/>
<polyline points="579.8,1645.1 659.7,1645.1 661.8,1618.1 667.6,1534.6 671.5,1486.3 674.2,1448.7 677.4,1405.2 681.2,1373.4 688.0,1364.0 695.0,1384.0 700.6,1413.4 706.8,1442.8 714.6,1464.0 720.0,1486.3 724.4,1507.5 730.3,1521.6 740.3,1540.4 748.3,1558.7 758.0,1578.1 765.9,1589.8 779.1,1599.2 786.2,1603.9 793.2,1617.6 810.9,1621.6 818.8,1633.3 823.2,1640.4 828.5,1645.1 835.6,1635.7 840.9,1645.1 848.8,1633.3 855.0,1642.7 862.0,1636.9 869.1,1645.1 879.7,1640.4 888.5,1645.1 906.1,1645.1 915.0,1639.2 923.8,1645.1 941.4,1645.1 950.2,1638.0 959.1,1645.1 985.5,1645.1 994.3,1638.0 1003.2,1645.1 1032.3,1645.1 1035.8,1635.7 1039.3,1598.5 1042.8,1627.5 1047.3,1645.1 1069.3,1645.1 1075.5,1638.0 1082.5,1645.1 1104.6,1645.1" fill="none" stroke="#a00000" stroke-width="4.3" stroke-linejoin="round" stroke-miterlimit="12" stroke-dasharray="7.5 12.5"/>
<polyline points="584.2,1644.5 588.6,1643.9 597.4,1643.9 606.3,1643.9 610.7,1601.6 614.6,1495.7 617.7,1397.0 620.2,1331.1 624.4,1306.4 630.3,1317.0 633.9,1334.6 642.2,1393.4 651.9,1440.5 661.7,1481.6 667.6,1501.6 677.4,1533.4 695.0,1562.8 698.9,1574.5 708.6,1580.4 712.6,1593.9 718.3,1592.2 726.2,1601.6 735.0,1613.3 740.3,1613.3 745.6,1617.6 758.0,1622.4 763.3,1628.3 775.6,1634.2 780.0,1632.3 784.4,1639.2 790.6,1638.0 796.8,1639.2 802.9,1645.1 807.4,1641.6 811.8,1645.1 816.2,1641.0 820.6,1644.5 825.0,1642.2 830.3,1645.1 835.6,1642.7 840.9,1645.1 846.2,1642.7 853.2,1645.1 866.5,1645.1 870.9,1640.4 875.3,1645.1 892.9,1645.1 897.3,1641.6 901.7,1645.1 963.5,1645.1 969.6,1641.6 974.9,1645.1 985.5,1645.1 990.8,1639.2 996.1,1645.1 1012.0,1645.1 1017.3,1640.4 1022.6,1645.1 1078.1,1645.1 1082.5,1642.7 1087.0,1645.1 1091.4,1645.1" fill="none" stroke="#0000ff" stroke-width="3.9" stroke-linejoin="miter" stroke-miterlimit="12"/>
<polyline points="579.8,1645.1 782.7,1645.1 790.6,1629.2 796.8,1564.4 802.9,1466.3 809.6,1387.6 814.4,1360.0 819.7,1360.5 825.9,1389.9 833.8,1428.7 842.6,1462.8 854.1,1514.6 866.5,1540.4 876.2,1568.7 880.6,1572.2 892.9,1595.1 899.1,1601.2 907.0,1611.5 911.4,1607.5 916.7,1613.6 924.7,1624.8 930.0,1622.8 939.7,1622.8 945.8,1641.0 952.0,1645.1 957.3,1638.0 963.5,1642.7 969.6,1635.7 974.9,1641.6 981.1,1639.2 987.3,1645.1 997.0,1640.4 1003.2,1645.1 1016.4,1645.1 1022.6,1641.6 1029.6,1645.1 1104.6,1645.1" fill="none" stroke="#f83a3a" stroke-width="3.9" stroke-linejoin="miter" stroke-miterlimit="12"/>
<polyline points="582.4,1645.1 758.8,1645.1 769.4,1642.7 783.5,1635.1 800.3,1627.5 813.5,1622.8 825.0,1620.4 835.6,1621.0 847.0,1623.3 858.5,1625.5 875.3,1628.0 892.0,1630.4 908.8,1633.0 925.5,1635.5 941.4,1637.7 959.1,1639.6 976.7,1641.6 992.6,1642.7 1012.0,1644.2 1038.4,1645.1 1102.8,1645.1" fill="none" stroke="#808080" stroke-width="3.6" stroke-linejoin="miter" stroke-miterlimit="12"/>
<polyline points="705.0,1645.1 840.9,1645.1 845.7,1602.8 850.6,1552.2 854.1,1524.0 858.5,1473.4 861.6,1439.3 864.7,1406.4 868.2,1389.2 873.5,1385.2 878.8,1389.2 883.2,1407.5 887.6,1429.9 892.0,1451.1 897.3,1469.9 901.7,1489.9 907.9,1506.9 915.0,1527.0 920.3,1545.5 930.0,1564.0 938.8,1580.8 948.5,1594.3 958.2,1604.4 971.4,1614.5 980.2,1616.9 986.4,1616.9 989.9,1609.3 994.3,1631.0 998.8,1612.2 1003.2,1635.7 1005.8,1635.7 1014.6,1629.8 1023.4,1631.0 1029.6,1641.6 1038.4,1638.0 1047.3,1642.7 1054.3,1639.2 1060.5,1642.7 1066.7,1629.8 1072.0,1641.6 1078.1,1645.1 1104.6,1645.1" fill="none" stroke="#f83a3a" stroke-width="4.3" stroke-linejoin="round" stroke-miterlimit="12" stroke-dasharray="7.5 12.5"/>
<text x="503.3" y="1468.8" font-size="28" text-anchor="middle" transform="rotate(-90 503.3 1468.8)">Thrombin (nM)</text>
<text x="845.0" y="1720.9" font-size="28.6" text-anchor="middle">Time (min)</text>
<line x1="981.7" y1="1321.1" x2="1024.5" y2="1321.1" stroke="#0000ff" stroke-width="4.0"/>
<text x="1047.4" y="1332.0" font-size="29.4" textLength="224.9" lengthAdjust="spacing">kaolin (10 <tspan font-family="Liberation Serif">&#956;</tspan>g/mL)</text>
<line x1="981.7" y1="1371.3" x2="1024.5" y2="1371.3" stroke="#a00000" stroke-width="4.0"/>
<text x="1047.4" y="1381.8" font-size="29.4" textLength="274.1" lengthAdjust="spacing">mAb-<tspan font-family="Liberation Serif">&#945;</tspan>PR-III_37 (5:1)</text>
<line x1="981.7" y1="1418.5" x2="1024.5" y2="1418.5" stroke="#a00000" stroke-width="4.0" stroke-dasharray="7.6 12.7"/>
<text x="1047.4" y="1428.3" font-size="29.4" textLength="297.7" lengthAdjust="spacing">mAb-<tspan font-family="Liberation Serif">&#945;</tspan>PR-III_37 (2.5:1)</text>
<line x1="981.7" y1="1464.7" x2="1024.5" y2="1464.7" stroke="#f83a3a" stroke-width="4.0"/>
<text x="1047.4" y="1475.2" font-size="29.4" textLength="314.1" lengthAdjust="spacing">mAb-<tspan font-family="Liberation Serif">&#945;</tspan>PR-III_37 (1.25:1)</text>
<line x1="981.7" y1="1511.2" x2="1024.5" y2="1511.2" stroke="#f83a3a" stroke-width="4.0" stroke-dasharray="7.6 12.7"/>
<text x="1047.4" y="1521.0" font-size="29.4" textLength="314.1" lengthAdjust="spacing">mAb-<tspan font-family="Liberation Serif">&#945;</tspan>PR-III_37 (0.63:1)</text>
<line x1="981.7" y1="1553.8" x2="1024.5" y2="1553.8" stroke="#808080" stroke-width="4.0"/>
<text x="1047.4" y="1563.7" font-size="29.4" textLength="79.7" lengthAdjust="spacing">Buffer</text>
<text x="7.2" y="1941.5" font-size="42.5" font-weight="bold">J</text>
<rect x="146.0" y="2216.3" width="45.3" height="72.2" fill="#a0a0a4" stroke="#000" stroke-width="2.0"/>
<rect x="216.9" y="2213.1" width="45.3" height="75.4" fill="#0000ff" stroke="#000" stroke-width="2.0"/>
<rect x="288.7" y="2052.6" width="44.4" height="235.9" fill="#ff0000" stroke="#000" stroke-width="2.0"/>
<rect x="358.3" y="1977.7" width="46.2" height="310.8" fill="#00c400" stroke="#000" stroke-width="2.0"/>
<line x1="168.7" y1="2215.3" x2="168.7" y2="2208.4" stroke="#000" stroke-width="1.8"/>
<line x1="156.8" y1="2209.4" x2="180.5" y2="2209.4" stroke="#000" stroke-width="2.0"/>
<line x1="310.9" y1="2051.6" x2="310.9" y2="2033.0" stroke="#000" stroke-width="1.8"/>
<line x1="299.3" y1="2034.0" x2="322.5" y2="2034.0" stroke="#000" stroke-width="2.0"/>
<line x1="381.4" y1="1976.7" x2="381.4" y2="1950.1" stroke="#000" stroke-width="1.8"/>
<line x1="369.3" y1="1951.1" x2="393.4" y2="1951.1" stroke="#000" stroke-width="2.0"/>
<line x1="122.1" y1="1929.5" x2="122.1" y2="2290.4" stroke="#000" stroke-width="3.9"/>
<line x1="109.1" y1="2288.5" x2="122.1" y2="2288.5" stroke="#000" stroke-width="3.9"/>
<text x="105.5" y="2298.8" font-size="29" text-anchor="end">0.0</text>
<line x1="109.1" y1="2199.2" x2="122.1" y2="2199.2" stroke="#000" stroke-width="3.9"/>
<text x="105.5" y="2209.5" font-size="29" text-anchor="end">0.5</text>
<line x1="109.1" y1="2110.0" x2="122.1" y2="2110.0" stroke="#000" stroke-width="3.9"/>
<text x="105.5" y="2120.3" font-size="29" text-anchor="end">1.0</text>
<line x1="109.1" y1="2020.8" x2="122.1" y2="2020.8" stroke="#000" stroke-width="3.9"/>
<text x="105.5" y="2031.0" font-size="29" text-anchor="end">1.5</text>
<line x1="109.1" y1="1931.5" x2="122.1" y2="1931.5" stroke="#000" stroke-width="3.9"/>
<text x="105.5" y="1941.8" font-size="29" text-anchor="end">2.0</text>
<line x1="109.1" y1="2288.5" x2="431.0" y2="2288.5" stroke="#000" stroke-width="3.9"/>
<line x1="168.7" y1="2288.5" x2="168.7" y2="2305.8" stroke="#000" stroke-width="3.9"/>
<line x1="239.6" y1="2288.5" x2="239.6" y2="2305.8" stroke="#000" stroke-width="3.9"/>
<line x1="310.9" y1="2288.5" x2="310.9" y2="2305.8" stroke="#000" stroke-width="3.9"/>
<line x1="381.4" y1="2288.5" x2="381.4" y2="2305.8" stroke="#000" stroke-width="3.9"/>
<circle cx="154.6" cy="2209.4" r="5.8" fill="#fff" stroke="#000" stroke-width="1.95"/>
<circle cx="168.2" cy="2220.8" r="5.8" fill="#fff" stroke="#000" stroke-width="1.95"/>
<circle cx="182.7" cy="2216.0" r="5.8" fill="#fff" stroke="#000" stroke-width="1.95"/>
<circle cx="226.5" cy="2209.4" r="5.8" fill="#fff" stroke="#000" stroke-width="1.95"/>
<circle cx="239.4" cy="2214.4" r="5.8" fill="#fff" stroke="#000" stroke-width="1.95"/>
<circle cx="253.5" cy="2211.7" r="5.8" fill="#fff" stroke="#000" stroke-width="1.95"/>
<circle cx="310.9" cy="2034.0" r="5.8" fill="#fff" stroke="#000" stroke-width="1.95"/>
<circle cx="319.9" cy="2053.2" r="5.8" fill="#fff" stroke="#000" stroke-width="1.95"/>
<circle cx="301.2" cy="2066.8" r="5.8" fill="#fff" stroke="#000" stroke-width="1.95"/>
<circle cx="381.8" cy="1951.1" r="5.8" fill="#fff" stroke="#000" stroke-width="1.95"/>
<circle cx="381.8" cy="1976.1" r="5.8" fill="#fff" stroke="#000" stroke-width="1.95"/>
<circle cx="381.8" cy="2001.1" r="5.8" fill="#fff" stroke="#000" stroke-width="1.95"/>
<path d="M167.8,2190.2 L167.8,2171.9 L241.0,2171.9 L241.0,2190.2" fill="none" stroke="#000" stroke-width="3.6"/>
<text x="207.8" y="2162.8" font-size="28" text-anchor="middle">n.s.</text>
<path d="M309.9,1926.0 L309.9,1906.7 L381.8,1906.7 L381.8,1926.0" fill="none" stroke="#000" stroke-width="3.6"/>
<path d="M343.90,1888.75L343.90,1883.85M343.90,1888.75L348.56,1887.24M343.90,1888.75L346.78,1892.71M343.90,1888.75L341.02,1892.71M343.90,1888.75L339.24,1887.24" stroke="#000" stroke-width="2.5" fill="none"/>
<text x="48.3" y="2112.1" font-size="28.9" text-anchor="middle" transform="rotate(-90 48.3 2112.1)">Absorbance at 405 nm</text>
<text x="177.7" y="2331.5" font-size="28" text-anchor="end" transform="rotate(-45 177.7 2331.5)">Buffer</text>
<text x="248.6" y="2331.5" font-size="28" text-anchor="end" transform="rotate(-45 248.6 2331.5)">pAB-<tspan font-family="Liberation Serif" font-style="italic">&#945;</tspan>SPC18</text>
<text x="319.9" y="2331.5" font-size="28" text-anchor="end" transform="rotate(-45 319.9 2331.5)">mAb-<tspan font-family="Liberation Serif" font-style="italic">&#945;</tspan>PR-III_37</text>
<text x="390.4" y="2331.5" font-size="28" text-anchor="end" transform="rotate(-45 390.4 2331.5)"></text>
<text x="383.5" y="2338.4" font-size="28" text-anchor="end" transform="rotate(-45 383.5 2338.4)">pAB-<tspan font-family="Liberation Serif" font-style="italic">&#945;</tspan>SPC18</text>
<text x="435.3" y="2340.2" font-size="28" text-anchor="end" transform="rotate(-45 435.3 2340.2)">+ mAb-<tspan font-family="Liberation Serif" font-style="italic">&#945;</tspan>PR-III_37</text>
<text x="495.3" y="1942.0" font-size="42.5" font-weight="bold">K</text>
<line x1="617.9" y1="1933.6" x2="617.9" y2="2302.4" stroke="#000" stroke-width="3.8"/>
<line x1="605.0" y1="2289.5" x2="617.9" y2="2289.5" stroke="#000" stroke-width="3.8"/>
<text x="601.5" y="2299.8" font-size="29" text-anchor="end">0</text>
<line x1="605.0" y1="2201.0" x2="617.9" y2="2201.0" stroke="#000" stroke-width="3.8"/>
<text x="601.5" y="2211.3" font-size="29" text-anchor="end">50</text>
<line x1="605.0" y1="2112.5" x2="617.9" y2="2112.5" stroke="#000" stroke-width="3.8"/>
<text x="601.5" y="2122.8" font-size="29" text-anchor="end">100</text>
<line x1="605.0" y1="2024.0" x2="617.9" y2="2024.0" stroke="#000" stroke-width="3.8"/>
<text x="601.5" y="2034.3" font-size="29" text-anchor="end">150</text>
<line x1="605.0" y1="1935.5" x2="617.9" y2="1935.5" stroke="#000" stroke-width="3.8"/>
<text x="601.5" y="1945.8" font-size="29" text-anchor="end">200</text>
<line x1="605.0" y1="2289.5" x2="1150.2" y2="2289.5" stroke="#000" stroke-width="3.8"/>
<line x1="617.9" y1="2289.5" x2="617.9" y2="2302.4" stroke="#000" stroke-width="3.8"/>
<text x="617.9" y="2332.5" font-size="28" text-anchor="middle">0</text>
<line x1="706.3" y1="2289.5" x2="706.3" y2="2302.4" stroke="#000" stroke-width="3.8"/>
<text x="706.3" y="2332.5" font-size="28" text-anchor="middle">10</text>
<line x1="794.7" y1="2289.5" x2="794.7" y2="2302.4" stroke="#000" stroke-width="3.8"/>
<text x="794.7" y="2332.5" font-size="28" text-anchor="middle">20</text>
<line x1="883.1" y1="2289.5" x2="883.1" y2="2302.4" stroke="#000" stroke-width="3.8"/>
<text x="883.1" y="2332.5" font-size="28" text-anchor="middle">30</text>
<line x1="971.5" y1="2289.5" x2="971.5" y2="2302.4" stroke="#000" stroke-width="3.8"/>
<text x="971.5" y="2332.5" font-size="28" text-anchor="middle">40</text>
<line x1="1059.9" y1="2289.5" x2="1059.9" y2="2302.4" stroke="#000" stroke-width="3.8"/>
<text x="1059.9" y="2332.5" font-size="28" text-anchor="middle">50</text>
<line x1="1148.3" y1="2289.5" x2="1148.3" y2="2302.4" stroke="#000" stroke-width="3.8"/>
<text x="1148.3" y="2332.5" font-size="28" text-anchor="middle">60</text>
<polyline points="620.6,2284.2 1139.5,2284.2" fill="none" stroke="#a0a0a4" stroke-width="3.6" stroke-linejoin="miter" stroke-miterlimit="12"/>
<polyline points="622.3,2289.5 779.7,2287.0 785.9,2284.2 794.7,2278.9 803.5,2268.3 812.4,2260.9 816.8,2257.9 821.2,2254.4 825.6,2255.1 830.1,2251.6 834.5,2249.6 838.9,2248.7 843.3,2251.1 847.7,2248.1 852.2,2247.4 856.6,2247.0 861.0,2244.4 865.4,2246.0 869.8,2246.6 874.3,2244.5 878.7,2246.2 883.1,2247.9 887.5,2248.1 891.9,2247.5 896.4,2249.7 900.8,2247.4 905.2,2247.3 909.6,2249.1 914.0,2247.6 918.5,2247.7 922.9,2250.1 927.3,2250.2 931.7,2253.4 936.1,2254.4 940.6,2250.6 945.0,2254.2 949.4,2255.0 953.8,2252.3 958.2,2253.4 962.7,2256.7 967.1,2256.2 971.5,2257.1 975.9,2257.6 980.3,2259.5 984.8,2257.7 989.2,2259.4 993.6,2259.5 998.0,2260.9 1002.4,2261.6 1006.9,2262.4 1011.3,2258.8 1015.7,2259.6 1020.1,2260.7 1024.5,2262.9 1029.0,2263.2 1033.4,2263.8 1037.8,2263.4 1042.2,2265.0 1046.6,2264.4 1051.1,2265.2 1055.5,2265.7 1059.9,2264.0 1064.3,2265.4 1068.7,2265.7 1073.2,2266.7 1077.6,2266.3 1082.0,2265.4 1086.4,2267.8 1090.8,2269.1 1095.3,2267.5 1099.7,2268.2 1104.1,2266.5 1108.5,2269.8 1112.9,2266.5 1117.4,2270.9 1121.8,2269.0 1126.2,2269.8 1130.6,2270.9 1135.0,2269.1 1139.5,2271.8" fill="none" stroke="#55a0ff" stroke-width="3.9" stroke-linejoin="miter" stroke-miterlimit="12"/>
<polyline points="622.3,2289.5 666.5,2286.0 670.9,2276.4 675.4,2229.3 679.8,2172.7 683.3,2135.5 688.6,2102.9 693.0,2090.2 700.1,2100.1 707.2,2118.9 715.1,2139.6 723.1,2169.7 729.3,2180.8 738.1,2197.8 744.3,2207.2 752.3,2214.6 759.3,2229.7 763.8,2232.9 768.2,2235.9 772.6,2235.5 777.0,2238.7 781.4,2243.9 785.9,2251.5 790.3,2248.9 794.7,2253.3 799.1,2258.5 803.5,2264.3 808.0,2264.4 812.4,2269.0 816.8,2270.5 821.2,2270.6 825.6,2271.7 830.1,2274.0 833.6,2277.3 840.7,2280.7 848.6,2272.3 854.8,2280.7 862.8,2281.2 869.8,2278.9 883.1,2287.0 891.9,2289.5 1006.9,2289.5 1015.7,2280.7 1022.8,2289.5 1086.4,2289.5 1095.3,2282.4 1102.3,2289.5 1139.5,2289.5" fill="none" stroke="#0000b4" stroke-width="3.9" stroke-linejoin="miter" stroke-miterlimit="12"/>
<polyline points="622.3,2289.5 626.7,2286.0 644.4,2284.2 657.7,2283.3 661.2,2278.9 665.6,2267.4 670.9,2229.7 674.5,2182.6 678.9,2126.1 683.3,2086.5 686.9,2073.6 691.3,2065.9 694.8,2065.9 699.2,2073.6 707.2,2094.8 716.0,2113.4 724.9,2132.3 731.9,2145.4 735.5,2151.1 743.4,2166.1 750.5,2175.5 758.5,2185.1 763.8,2194.7 768.2,2199.3 772.6,2204.3 777.0,2205.7 781.4,2214.2 785.9,2217.8 790.3,2225.7 794.7,2226.2 799.1,2227.3 803.5,2233.1 808.0,2232.8 812.4,2235.9 816.8,2242.2 821.2,2247.5 825.6,2244.7 830.1,2251.3 834.5,2254.4 838.9,2251.5 843.3,2252.9 847.7,2254.0 852.2,2254.3 856.6,2260.7 861.0,2262.6 865.4,2263.2 869.8,2257.8 874.3,2264.5 878.7,2264.8 883.1,2266.3 887.5,2268.2 891.9,2270.4 896.4,2270.4 900.8,2274.0 905.2,2275.2 909.6,2272.4 914.0,2278.9 918.5,2275.4 922.9,2277.0 927.3,2279.3 931.7,2279.9 936.1,2279.2 940.6,2281.1 945.0,2284.3 949.4,2283.9 953.8,2284.8 958.2,2284.0 962.7,2280.2 971.5,2284.2 975.9,2288.8 980.3,2289.5 984.8,2288.5 989.2,2289.5 993.6,2287.7 998.0,2288.3 1002.4,2287.8 1006.9,2284.6 1011.3,2284.6 1015.7,2289.2 1020.1,2286.4 1024.5,2289.5 1029.0,2289.5 1033.4,2286.4 1037.8,2285.4 1042.2,2286.5 1046.6,2286.2 1051.1,2289.5 1055.5,2287.8 1059.9,2284.4 1064.3,2288.7 1068.7,2286.0 1073.2,2289.5 1077.6,2289.5 1082.0,2289.3 1086.4,2286.8 1090.8,2287.3 1095.3,2284.6 1099.7,2289.5 1104.1,2289.5 1108.5,2287.9 1112.9,2286.6 1117.4,2289.5 1121.8,2286.7 1126.2,2289.5 1130.6,2287.6 1135.0,2289.5 1139.5,2289.5" fill="none" stroke="#ff8080" stroke-width="3.9" stroke-linejoin="miter" stroke-miterlimit="12"/>
<polyline points="622.8,2289.5 629.4,2280.7 634.7,2279.8 641.8,2280.7 646.2,2278.0 648.8,2261.2 651.5,2220.5 654.1,2146.1 658.6,2078.9 661.2,2034.6 665.6,2014.3 670.1,2027.5 676.2,2048.8 684.2,2073.6 693.9,2098.3 700.1,2112.5 705.4,2124.9 713.4,2132.0 722.2,2144.4 729.3,2155.0 734.6,2164.5 738.1,2168.4 742.5,2178.0 749.6,2180.6 753.2,2193.9 759.3,2204.5 763.8,2212.3 768.2,2216.4 772.6,2223.1 777.0,2226.3 781.4,2233.9 785.9,2237.1 790.3,2239.1 794.7,2237.9 799.1,2248.0 803.5,2248.7 808.0,2252.2 812.4,2259.2 816.8,2257.8 821.2,2259.8 825.6,2262.8 830.1,2261.0 834.5,2270.3 838.9,2271.4 843.3,2264.8 847.7,2269.8 852.2,2272.2 856.6,2272.1 861.0,2272.9 865.4,2268.6 869.8,2274.7 874.3,2275.0 878.7,2272.5 883.1,2273.2 887.5,2270.8 891.9,2272.5 896.4,2276.8 900.8,2278.4 905.2,2275.3 909.6,2276.0 918.5,2282.4 927.3,2285.1 936.1,2286.8 940.6,2289.5 945.0,2285.0 949.4,2289.5 953.8,2289.5 958.2,2283.8 962.7,2285.9 967.1,2289.5 971.5,2289.5 975.9,2289.5 980.3,2289.0 984.8,2287.9 989.2,2289.5 993.6,2289.5 998.0,2284.3 1002.4,2285.1 1006.9,2289.5 1011.3,2289.5 1015.7,2289.5 1020.1,2289.5 1024.5,2286.9 1029.0,2289.5 1033.4,2288.6 1037.8,2286.3 1042.2,2287.1 1046.6,2289.5 1051.1,2289.5 1055.5,2289.5 1059.9,2287.8 1064.3,2288.0 1068.7,2283.2 1073.2,2284.1 1077.6,2284.3 1082.0,2289.5 1086.4,2289.5 1090.8,2288.1 1095.3,2283.2 1099.7,2289.5 1104.1,2289.5 1108.5,2289.5 1112.9,2289.5 1117.4,2286.8 1121.8,2289.5 1126.2,2289.5 1130.6,2282.5 1135.0,2289.5 1139.5,2289.5" fill="none" stroke="#f50000" stroke-width="3.9" stroke-linejoin="miter" stroke-miterlimit="12"/>
<text x="543.2" y="2112.6" font-size="28.2" text-anchor="middle" transform="rotate(-90 543.2 2112.6)">Thrombin (nM)</text>
<text x="884.3" y="2365.4" font-size="28.6" text-anchor="middle">Time (min)</text>
<line x1="837.0" y1="1976.6" x2="880.1" y2="1976.6" stroke="#f50000" stroke-width="4.0"/>
<text x="902.7" y="1987.9" font-size="29.4" textLength="446.9" lengthAdjust="spacing">long chain polyP + mAb-<tspan font-family="Liberation Serif">&#945;</tspan>PR-III_37</text>
<line x1="837.0" y1="2024.1" x2="880.1" y2="2024.1" stroke="#ff8080" stroke-width="4.0"/>
<text x="902.7" y="2034.2" font-size="29.4" textLength="212.2" lengthAdjust="spacing">long chain polyP</text>
<line x1="837.0" y1="2070.8" x2="880.1" y2="2070.8" stroke="#0000b4" stroke-width="4.0"/>
<text x="902.7" y="2083.0" font-size="29.4" textLength="458.3" lengthAdjust="spacing">short chain polyP + mAb-<tspan font-family="Liberation Serif">&#945;</tspan>PR-III_37</text>
<line x1="837.0" y1="2118.7" x2="880.1" y2="2118.7" stroke="#55a0ff" stroke-width="4.0"/>
<text x="902.7" y="2129.3" font-size="29.4" textLength="222.7" lengthAdjust="spacing">short chain polyP</text>
<line x1="837.0" y1="2165.4" x2="880.1" y2="2165.4" stroke="#a0a0a4" stroke-width="4.0"/>
<text x="902.7" y="2175.6" font-size="29.4" textLength="78.9" lengthAdjust="spacing">Buffer</text>
</svg>
</body></html>
